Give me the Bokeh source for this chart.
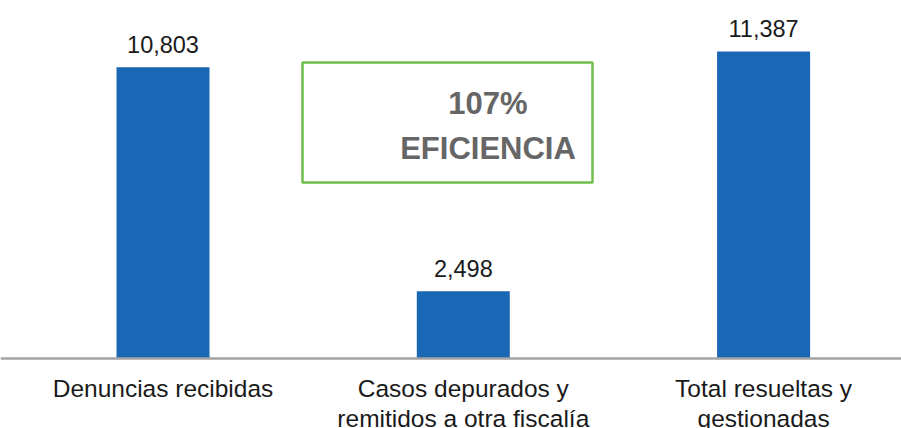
from bokeh.plotting import figure
from bokeh.models import Range1d, Span
from bokeh.core.properties import value
from bokeh.embed import file_html
from bokeh.resources import INLINE

categories = ["Denuncias recibidas", "Casos depurados y\nremitidos a otra fiscalía", "Total resueltas y\ngestionadas"]
values = [10803, 2498, 11387]
value_labels = ["10,803", "2,498", "11,387"]
efficiency_lines = ["107%", "EFICIENCIA"]

W, H = 901, 428
px_x = 300.3            # pixels per category step
x0_px = 162.5           # pixel of first category centre
base_px = 358           # pixel (from top) of the baseline
ppu = 0.02695           # pixels per unit on y

xs0 = -x0_px / px_x
x_range = Range1d(xs0, xs0 + W / px_x)
y_range = Range1d(-(H - base_px) / ppu, base_px / ppu)

def dx(px):  # px from left -> data x
    return xs0 + px / px_x

def dy(px):  # px above baseline -> data y
    return px / ppu

p = figure(width=W, height=H, x_range=x_range, y_range=y_range,
           output_backend="svg", toolbar_location=None,
           x_axis_location=None, y_axis_location=None, min_border=0)
p.outline_line_color = None
p.xgrid.visible = False
p.ygrid.visible = False
p.background_fill_color = "white"
p.border_fill_color = "white"

idx = list(range(len(categories)))
p.vbar(x=idx, top=values, bottom=0, width=93 / px_x, fill_color="#1A67B5", line_color=None)

p.add_layout(Span(location=0, dimension="width", line_color="#a3a3a3", line_width=2.5))

font = value("Liberation Sans")
p.text(x=idx, y=[v + dy(23) for v in values], text=value_labels, text_font=font,
       text_font_size="23.5px", text_align="center", text_baseline="middle", text_color="#1a1a1a")

line1 = [c.split("\n")[0] for c in categories]
line2 = [c.split("\n")[1] if "\n" in c else "" for c in categories]
p.text(x=idx, y=[-dy(30)] * 3, text=line1, text_font=font, text_font_size="24.5px",
       text_align="center", text_baseline="middle", text_color="#1a1a1a")
p.text(x=idx, y=[-dy(60)] * 3, text=line2, text_font=font, text_font_size="24.5px",
       text_align="center", text_baseline="middle", text_color="#1a1a1a")

# efficiency box (pixel positions converted to data)
p.quad(left=[dx(302)], right=[dx(592)], bottom=[dy(base_px - 182)], top=[dy(base_px - 62)],
       fill_color=None, line_color="#6DBE4B", line_width=2.5)
p.text(x=[dx(487.5)] * 2, y=[dy(base_px - 102.5), dy(base_px - 148)], text=efficiency_lines,
       text_font=font, text_font_size="31px", text_font_style="bold",
       text_align="center", text_baseline="middle", text_color="#666666")

open("out.html", "w").write(file_html(p, INLINE))
